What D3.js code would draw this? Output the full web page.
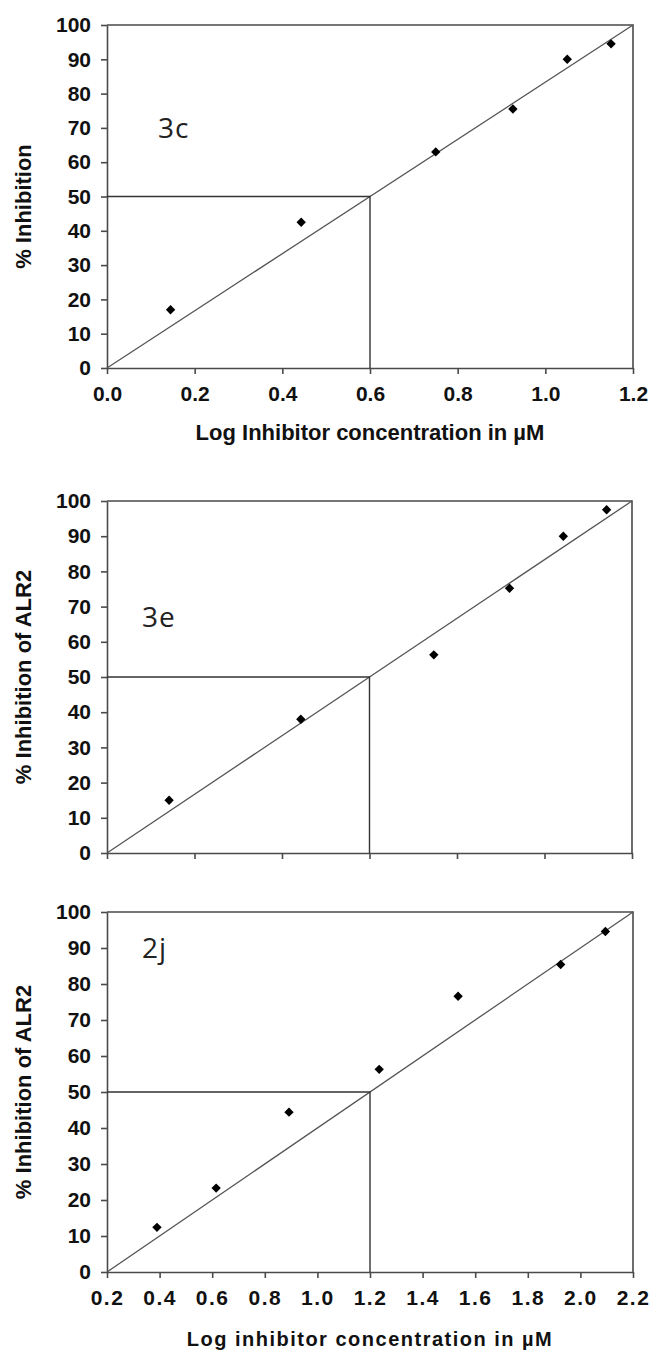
<!DOCTYPE html>
<html>
<head>
<meta charset="utf-8">
<script src="https://cdn.jsdelivr.net/npm/d3@7"></script>
<style>
  body { margin: 0; background: #fff; }
  svg { display: block; }
</style>
</head>
<body>
<div id="wrapper"></div>
<script>
const AXIS_COLOR = "#4a4a4a";
const LINE_COLOR = "#555";
const POINT_COLOR = "#000";

// panel 3c
const topX = [0.145, 0.443, 0.75, 0.926, 1.05, 1.15];
const topY = [17, 42.5, 63, 75.5, 90, 94.5];
// panel 3e
const midX = [0.142, 0.443, 0.747, 0.92, 1.043, 1.142];
const midY = [15, 38, 56.3, 75.2, 90, 97.5];
// panel 2j
const botX = [0.39, 0.615, 0.892, 1.235, 1.535, 1.925, 2.095];
const botY = [12.4, 23.3, 44.4, 56.3, 76.6, 85.4, 94.6];

const yTicks = [0, 10, 20, 30, 40, 50, 60, 70, 80, 90, 100];
const topTicks = [0, 0.2, 0.4, 0.6, 0.8, 1.0, 1.2];
const botTicks = [0.2, 0.4, 0.6, 0.8, 1.0, 1.2, 1.4, 1.6, 1.8, 2.0, 2.2];

const topFitX = [0, 1.2];
const botFitX = [0.2, 2.2];
const fitY = [0, 100];
const ic50 = [0.6, 0.6, 1.2];

const labels = ["3c", "3e", "2j"];
const yTitles = ["% Inhibition", "% Inhibition of ALR2", "% Inhibition of ALR2"];
const xTitles = ["Log Inhibitor concentration in \u00b5M", "", "Log inhibitor concentration in \u00b5M"];

const svg = d3.select("#wrapper")
  .append("svg")
  .attr("width", 652)
  .attr("height", 1355);

function drawPanel(opt) {
  const xScale = d3.scaleLinear()
    .domain(opt.xDomain)
    .range([opt.left, opt.right]);
  const yScale = d3.scaleLinear()
    .domain([0, 100])
    .range([opt.bottom, opt.top]);

  const g = svg.append("g");

  // frame top + right
  g.append("path")
    .attr("d", `M${opt.left},${opt.top}H${opt.right}V${opt.bottom}`)
    .attr("fill", "none")
    .attr("stroke", AXIS_COLOR)
    .attr("stroke-width", 1.6);

  const yAxis = g.append("g")
    .attr("transform", `translate(${opt.left},0)`)
    .call(d3.axisLeft(yScale).tickValues(yTicks).tickSize(6).tickPadding(10).tickSizeOuter(0));
  yAxis.select(".domain").attr("stroke", AXIS_COLOR).attr("stroke-width", 1.6);
  yAxis.selectAll(".tick line").attr("stroke", AXIS_COLOR).attr("stroke-width", 1.6);
  yAxis.selectAll(".tick text")
    .attr("fill", "#111")
    .style("font-family", "Liberation Sans, Arial, sans-serif")
    .style("font-weight", "bold")
    .style("font-size", "21px");

  const xAxis = g.append("g")
    .attr("transform", `translate(0,${opt.bottom})`)
    .call(d3.axisBottom(xScale).tickValues(opt.ticks).tickSize(6).tickPadding(12).tickSizeOuter(0)
      .tickFormat(opt.showX ? d3.format(".1f") : () => ""));
  xAxis.select(".domain").attr("stroke", AXIS_COLOR).attr("stroke-width", 1.6);
  xAxis.selectAll(".tick line").attr("stroke", AXIS_COLOR).attr("stroke-width", 1.6);
  xAxis.selectAll(".tick text")
    .attr("fill", "#111")
    .style("font-family", "Liberation Sans, Arial, sans-serif")
    .style("font-weight", "bold")
    .style("font-size", "21px")
    .style("letter-spacing", opt.spacing + "px");

  // fit line
  const line = d3.line()
    .x(d => xScale(d[0]))
    .y(d => yScale(d[1]));
  g.append("path")
    .datum(d3.zip(opt.fitX, fitY))
    .attr("d", line)
    .attr("fill", "none")
    .attr("stroke", LINE_COLOR)
    .attr("stroke-width", 1.3);

  // IC50 guide
  g.append("path")
    .datum([[opt.xDomain[0], 50], [opt.ic50, 50], [opt.ic50, 0]])
    .attr("d", line)
    .attr("fill", "none")
    .attr("stroke", "#333")
    .attr("stroke-width", 1.4);

  const symbol = d3.symbol().type(d3.symbolSquare).size(44);
  g.selectAll(".pt")
    .data(d3.zip(opt.xs, opt.ys))
    .enter().append("path")
    .attr("class", "pt")
    .attr("d", symbol)
    .attr("transform", d => `translate(${xScale(d[0])},${yScale(d[1])}) rotate(45)`)
    .attr("fill", POINT_COLOR);

  g.append("text")
    .attr("x", opt.labelX)
    .attr("y", yScale(opt.labelY))
    .attr("dy", "0.35em")
    .text(opt.label)
    .attr("fill", "#222")
    .style("font-family", "Open Sans, sans-serif")
    .style("font-size", "28px")
    .style("letter-spacing", "1px");

  g.append("text")
    .attr("transform", `translate(23,${(opt.top + opt.bottom) / 2 + opt.titleShift}) rotate(-90)`)
    .attr("text-anchor", "middle")
    .attr("dy", "0.35em")
    .text(opt.yTitle)
    .attr("fill", "#111")
    .style("font-family", "Liberation Sans, Arial, sans-serif")
    .style("font-weight", "bold")
    .style("font-size", "22px");

  if (opt.xTitle) {
    g.append("text")
      .attr("x", (opt.left + opt.right) / 2)
      .attr("y", opt.bottom + opt.xTitleOffset)
      .attr("text-anchor", "middle")
      .text(opt.xTitle)
      .attr("fill", "#111")
      .style("font-family", "Liberation Sans, Arial, sans-serif")
      .style("font-weight", "bold")
      .style("font-size", opt.titleSize + "px")
      .style("letter-spacing", opt.spacing + "px");
  }
}

drawPanel({
  left: 107, right: 633, top: 25, bottom: 368,
  xDomain: [0, 1.2], ticks: topTicks, showX: true, spacing: 0,
  xs: topX, ys: topY, fitX: topFitX, ic50: ic50[0],
  label: labels[0], labelX: 158, labelY: 70,
  yTitle: yTitles[0], titleShift: 10, xTitle: xTitles[0], xTitleOffset: 72, titleSize: 22
});

drawPanel({
  left: 107, right: 632, top: 501, bottom: 853,
  xDomain: [0, 1.2], ticks: topTicks, showX: false, spacing: 0,
  xs: midX, ys: midY, fitX: topFitX, ic50: ic50[1],
  label: labels[1], labelX: 142, labelY: 67,
  yTitle: yTitles[1], titleShift: 0, xTitle: xTitles[1], xTitleOffset: 0, titleSize: 22
});

drawPanel({
  left: 107, right: 633, top: 912, bottom: 1272,
  xDomain: [0.2, 2.2], ticks: botTicks, showX: true, spacing: 1.5,
  xs: botX, ys: botY, fitX: botFitX, ic50: ic50[2],
  label: labels[2], labelX: 142, labelY: 90,
  yTitle: yTitles[2], titleShift: 0, xTitle: xTitles[2], xTitleOffset: 74, titleSize: 20
});
</script>
</body>
</html>
